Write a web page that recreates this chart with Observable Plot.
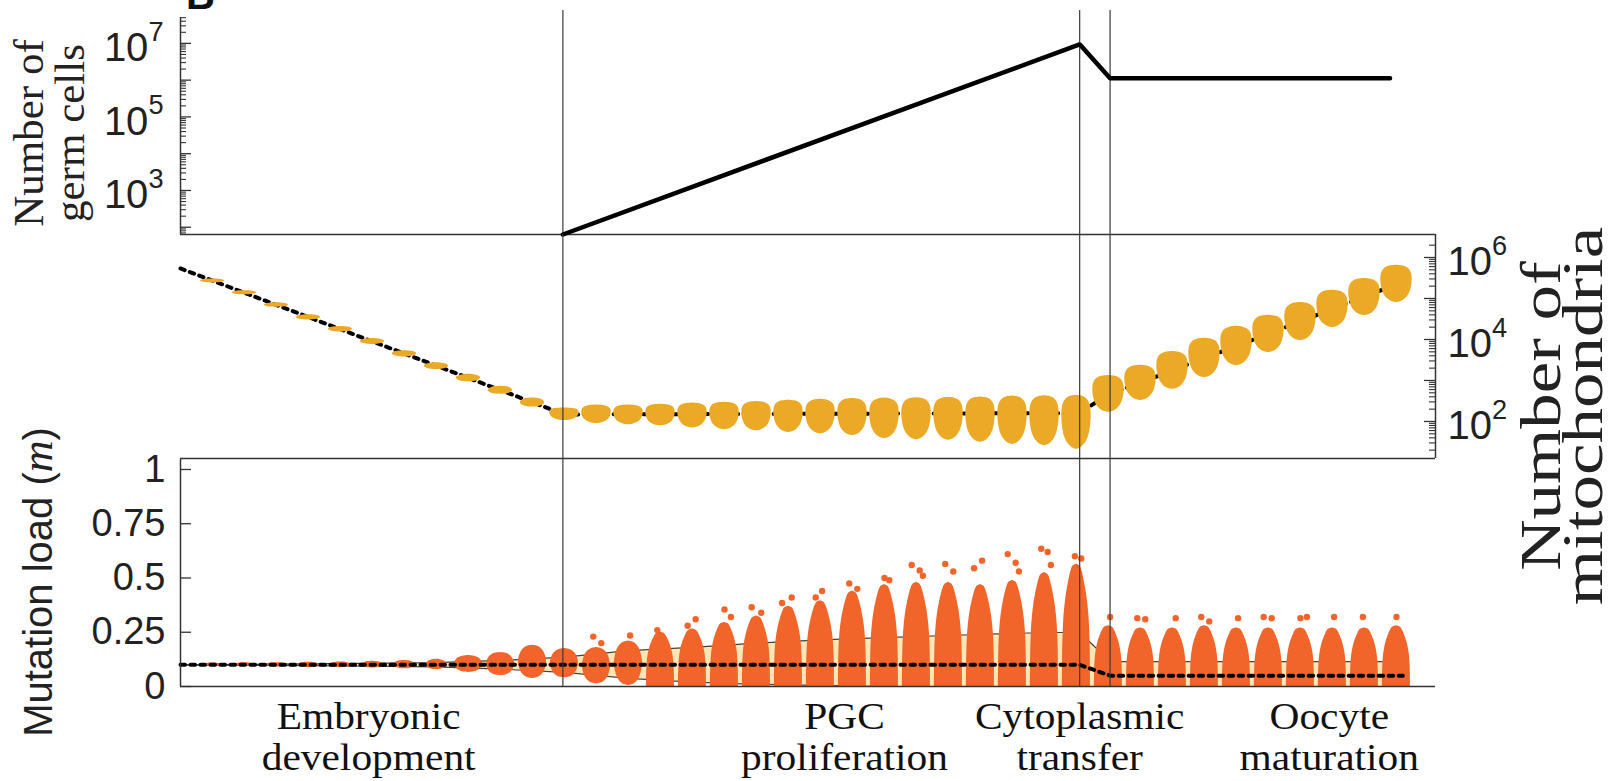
<!DOCTYPE html>
<html>
<head>
<meta charset="utf-8">
<script src="https://cdn.jsdelivr.net/npm/d3@7"></script>
<script src="https://cdn.jsdelivr.net/npm/@observablehq/plot@0.6"></script>
<style>
  body { margin: 0; background: #fff; }
  #wrap { position: relative; width: 1617px; height: 781px; overflow: hidden; background: #fff; }
  #wrap svg { position: absolute; left: 0; }
  #panel { position: absolute; left: 186px; top: -25px; font: bold 40px "Liberation Sans"; line-height: 1; color: #111; }
  .rot { position: absolute; white-space: nowrap; text-align: center; color: #222; }
</style>
</head>
<body>
<div id="wrap"><div id="panel">B</div></div>
<script>
// ---------------- DATA ----------------
const steps = [1,2,3,4,5,6,7,8,9,10,11,12,13,14,15,16,17,18,19,20,21,22,23,24,25,26,27,28,29,30,31,32,33,34,35,36,37,38];
const boundaries = [11.95, 28.1, 29.05];

// Panel 1: number of germ cells
const germX = [11.95, 28.1, 29.05, 37.8];
const germN = [63.5, 9.4e6, 1.12e6, 1.12e6];

// Panel 2: number of mitochondria per cell (cluster low / high) and mean
const mitoLo = [2.4e5, 1.23e5, 6.1e4, 3.0e4, 1.53e4, 7600, 3760, 1860, 930, 457, 224, 105,
  89, 83, 78, 69, 63, 59, 54, 50, 45, 38, 36, 35, 31, 27.5, 25.7, 21,
  166, 324, 603, 1175, 2291, 4786, 9333, 19498, 38019, 79433];
const mitoHi = [3.0e5, 1.55e5, 7.85e4, 4.0e4, 2.07e4, 1.05e4, 5310, 2690, 1410, 724, 372, 214,
  251, 251, 263, 282, 295, 309, 331, 347, 363, 372, 380, 389, 398, 417, 427, 437,
  1318, 2344, 5129, 10715, 20893, 38905, 79433, 158489, 309030, 645654];
const mitoMeanX = [0, 12, 28.1, 29, 30, 31, 32, 33, 34, 35, 36, 37, 38];
const mitoMean = [5.4e5, 148, 160, 470, 870, 1780, 3550, 6900, 13800, 27500, 56000, 110000, 224000];

// Panel 3: mutation load clusters (low, high) and outliers
const loadLo = [0.092, 0.091, 0.09, 0.088, 0.087, 0.085, 0.082, 0.078, 0.065, 0.05, 0.037, 0.04,
  0.012, 0.005, 0, 0, 0, 0, 0, 0, 0, 0, 0, 0, 0, 0, 0, 0,
  0, 0, 0, 0, 0, 0, 0, 0, 0, 0];
const loadHi = [0.108, 0.109, 0.11, 0.112, 0.113, 0.116, 0.12, 0.125, 0.143, 0.157, 0.19, 0.175,
  0.18, 0.21, 0.25, 0.265, 0.295, 0.325, 0.37, 0.395, 0.44, 0.47, 0.48, 0.48, 0.47, 0.49, 0.525, 0.565,
  0.28, 0.27, 0.27, 0.28, 0.27, 0.27, 0.27, 0.27, 0.27, 0.28];
const outlierStep = [13,13,14,15,16,16,17,17,18,18,19,19,20,20,21,21,22,22,23,23,23,24,24,25,25,26,26,26,27,27,27,28,28,
  29,30,30,31,32,32,33,34,34,35,35,36,37,38];
const outlierDx = [-0.1,0.15,0.05,-0.1,0.1,-0.15,0.0,0.2,-0.15,0.15,0.1,-0.2,0.05,-0.15,-0.1,0.15,0.0,0.15,-0.15,0.1,0.2,-0.1,0.15,0.05,-0.2,-0.15,0.1,0.2,-0.1,0.1,0.2,-0.05,0.15,
  0.05,-0.1,0.15,0.1,-0.1,0.15,0.05,-0.15,0.1,0.0,0.2,0.05,-0.05,0.0];
const outlierLoad = [0.23,0.2,0.235,0.26,0.31,0.28,0.355,0.32,0.365,0.34,0.41,0.385,0.44,0.41,0.475,0.45,0.5,0.49,0.56,0.535,0.51,0.565,0.53,0.58,0.545,0.61,0.57,0.53,0.635,0.62,0.56,0.60,0.59,
  0.32,0.315,0.31,0.315,0.32,0.30,0.315,0.32,0.315,0.315,0.32,0.32,0.32,0.32];
const bandX = [0, 4, 8, 10, 12, 14, 16, 18, 20, 22, 24, 26, 28, 28.1, 29.05, 38.2];
const bandHi = [0.1, 0.104, 0.11, 0.12, 0.135, 0.165, 0.18, 0.2, 0.215, 0.225, 0.235, 0.245, 0.25, 0.25, 0.115, 0.115];
const bandLo = [0.1, 0.096, 0.09, 0.08, 0.065, 0.037, 0.02, 0.01, 0.005, 0, 0, 0, 0, 0, 0, 0];
const meanX = [0, 28.1, 29.05, 38.2];
const meanLoad = [0.1, 0.1, 0.05, 0.05];
const loadTicks = [0, 0.25, 0.5, 0.75, 1];

// stage labels
const stageX = [5.88, 20.75, 28.1, 35.9];
const stageText = ["Embryonic\ndevelopment", "PGC\nproliferation", "Cytoplasmic\ntransfer", "Oocyte\nmaturation"];

// axis titles
const titleGerm = ["Number of", "germ cells"];
const titleMito = ["Number of", "mitochondria"];
const titleLoad = ["Mutation load (", "m", ")"];

// ---------------- LAYOUT / STYLE ----------------
const W = 1617, ML = 180, MR = 182, PW = W - ML - MR;
const xDomain = [0, 39.22];
const topDomain = [63.5, 5.05e7];
const midDomain = [12.5, 3.64e6];
const botDomain = [0, 1.046];
const YELLOW = "#EBA926", ORANGE = "#F2652A", CREAM = "#FDE6B6", AXIS = "#333";

// cloud outlines (fraction of cluster height, fraction of half width)
const ellipseShape = [[0,0],[0.04,0.42],[0.14,0.72],[0.3,0.91],[0.5,1],[0.7,0.91],[0.86,0.72],[0.96,0.42],[1,0]];
const eggShape = [[0,0],[0.03,0.3],[0.1,0.56],[0.22,0.79],[0.4,0.94],[0.6,1],[0.76,0.97],[0.87,0.86],[0.94,0.67],[0.98,0.42],[1,0]];
const bellShape = [[0,1],[0.35,0.97],[0.55,0.9],[0.7,0.78],[0.82,0.62],[0.9,0.48],[0.95,0.37],[0.98,0.26],[1,0]];

function cloudRows(items, shapeOf, halfOf, log) {
  const rows = [];
  for (const d of items) {
    const hw = halfOf(d.s);
    for (const [f, w] of shapeOf(d.s)) {
      const y = log ? Math.pow(10, Math.log10(d.lo) + f * (Math.log10(d.hi) - Math.log10(d.lo))) : d.lo + f * (d.hi - d.lo);
      rows.push({s: d.s, y, x1: d.s - w * hw, x2: d.s + w * hw});
    }
  }
  return rows;
}

const mito = steps.map((s, i) => ({s, lo: mitoLo[i], hi: mitoHi[i]}));
const load = steps.map((s, i) => ({s, lo: loadLo[i], hi: loadHi[i]}));
const mitoClouds = cloudRows(mito, s => (s < 12 ? ellipseShape : eggShape), s => (s < 12 ? 0.38 : s <= 28 ? 0.46 : 0.49), true);
const loadClouds = cloudRows(load, s => (s <= 14 ? ellipseShape : bellShape), s => (s <= 8 ? 0.32 : 0.44), false);
const outliers = outlierStep.map((s, i) => ({s: s + outlierDx[i], v: outlierLoad[i]}));
const band = bandX.map((x, i) => ({x, lo: bandLo[i], hi: bandHi[i]}));
const stages = stageX.map((x, i) => ({x, t: stageText[i]}));
const isMajor = t => Math.abs(Math.log10(t) - Math.round(Math.log10(t))) < 1e-9;
const topTicks = d3.scaleLog().domain(topDomain).ticks();
const midTicks = d3.scaleLog().domain(midDomain).ticks().filter(t => t >= 20 && t <= 2e6);
const expFmt = d => "10^" + Math.round(Math.log10(d));

const baseStyle = {background: "transparent", overflow: "visible", fontFamily: "Liberation Sans", color: "#222"};

// ---------------- TOP PANEL ----------------
const topPlot = Plot.plot({
  width: W, height: 235, marginLeft: ML, marginRight: MR, marginTop: 17, marginBottom: 1,
  style: {...baseStyle, fontSize: "40px"},
  x: {domain: xDomain, axis: null},
  y: {type: "log", domain: topDomain, ticks: [1e3, 1e5, 1e7], tickFormat: expFmt, tickSize: 0, tickPadding: 17, label: null},
  marks: [
    Plot.tickY(topTicks.filter(isMajor), {y: d => d, stroke: AXIS, strokeWidth: 1.3, insetRight: PW - 11}),
    Plot.tickY(topTicks.filter(t => !isMajor(t)), {y: d => d, stroke: AXIS, strokeWidth: 1.1, insetRight: PW - 6}),
    Plot.ruleX([xDomain[0]], {stroke: AXIS, strokeWidth: 1.5}),
    Plot.ruleY([topDomain[0]], {stroke: AXIS, strokeWidth: 1.5}),
    Plot.ruleX(boundaries, {x: d => d, stroke: "#3a3a3a", strokeWidth: 1.2, insetTop: -7}),
    Plot.line(germX.map((x, i) => ({x, n: germN[i]})), {x: "x", y: "n", stroke: "#000", strokeWidth: 4.5, strokeLinejoin: "miter"})
  ]
});

// ---------------- MIDDLE PANEL ----------------
const midPlot = Plot.plot({
  width: W, height: 224, marginLeft: ML, marginRight: MR, marginTop: 0, marginBottom: 0,
  style: {...baseStyle, fontSize: "40px"},
  x: {domain: xDomain, axis: null},
  y: {type: "log", domain: midDomain, axis: "right", ticks: [1e2, 1e4, 1e6], tickFormat: expFmt, tickSize: 0, tickPadding: 12, label: null},
  marks: [
    Plot.tickY(midTicks.filter(isMajor), {y: d => d, stroke: AXIS, strokeWidth: 1.3, insetLeft: PW - 11}),
    Plot.tickY(midTicks.filter(t => !isMajor(t)), {y: d => d, stroke: AXIS, strokeWidth: 1.1, insetLeft: PW - 6}),
    Plot.ruleX([xDomain[1]], {stroke: AXIS, strokeWidth: 1.5}),
    Plot.ruleY([midDomain[0]], {stroke: AXIS, strokeWidth: 1.5}),
    Plot.line(mitoMeanX.map((x, i) => ({x, n: mitoMean[i]})), {x: "x", y: "n", stroke: "#000", strokeWidth: 4, strokeDasharray: "4.5,5.5"}),
    Plot.areaX(mitoClouds, {y: "y", x1: "x1", x2: "x2", z: "s", fill: YELLOW, curve: "catmull-rom"}),
    Plot.ruleX(boundaries, {x: d => d, stroke: "#3a3a3a", strokeWidth: 1.2})
  ]
});

// ---------------- BOTTOM PANEL ----------------
const botPlot = Plot.plot({
  width: W, height: 322, marginLeft: ML, marginRight: MR, marginTop: 0, marginBottom: 95,
  style: {...baseStyle, fontSize: "38px"},
  x: {domain: xDomain, axis: null},
  y: {domain: botDomain, ticks: loadTicks, tickFormat: d => String(d), tickSize: 0, tickPadding: 15, label: null},
  marks: [
    Plot.tickY(loadTicks, {y: d => d, stroke: AXIS, strokeWidth: 1.3, insetRight: PW - 11}),
    Plot.areaY(band, {x: "x", y1: "lo", y2: "hi", fill: CREAM}),
    Plot.line(band, {x: "x", y: "hi", stroke: "#444", strokeWidth: 1.2}),
    Plot.line(band, {x: "x", y: "lo", stroke: "#444", strokeWidth: 1.2}),
    Plot.areaX(loadClouds, {y: "y", x1: "x1", x2: "x2", z: "s", fill: ORANGE, curve: "catmull-rom"}),
    Plot.dot(outliers, {x: "s", y: "v", r: 3.2, fill: ORANGE}),
    Plot.line(meanX.map((x, i) => ({x, v: meanLoad[i]})), {x: "x", y: "v", stroke: "#000", strokeWidth: 4, strokeDasharray: "4.5,5.5"}),
    Plot.ruleX(boundaries, {x: d => d, stroke: "#3a3a3a", strokeWidth: 1.2}),
    Plot.ruleX([xDomain[0]], {stroke: AXIS, strokeWidth: 1.5}),
    Plot.ruleY([0], {stroke: AXIS, strokeWidth: 1.5}),
    Plot.text(stages, {x: "x", frameAnchor: "bottom", text: "t", lineAnchor: "top", dy: 14,
      fontFamily: "Liberation Serif", fontSize: 37, lineHeight: 1.1, fill: "#111"})
  ]
});

// ---------------- assemble ----------------
const ns = "http://www.w3.org/2000/svg";
function supify(svg) {
  svg.querySelectorAll("text").forEach(t => {
    const m = /^10\^(\d+)$/.exec(t.textContent);
    if (!m) return;
    t.textContent = "";
    const a = document.createElementNS(ns, "tspan"); a.textContent = "10"; a.setAttribute("dy", "0.12em");
    const b = document.createElementNS(ns, "tspan"); b.textContent = m[1];
    b.setAttribute("font-size", "0.68em"); b.setAttribute("dy", "-0.75em");
    t.append(a, b);
  });
}
function widenStages(svg) {
  const flat = stageText.map(s => s.replace("\n", ""));
  svg.querySelectorAll("text").forEach(t => {
    if (!flat.includes(t.textContent)) return;
    const tr = t.getAttribute("transform") || "";
    const x = t.getAttribute("x"), y = t.getAttribute("y");
    if (x != null || y != null) {
      t.setAttribute("transform", `${tr} translate(${x || 0},${y || 0}) scale(1.12,1)`);
      t.removeAttribute("x"); t.removeAttribute("y");
    } else {
      t.setAttribute("transform", `${tr} scale(1.12,1)`);
    }
  });
}
const wrap = document.getElementById("wrap");
[[topPlot, 0], [midPlot, 234], [botPlot, 459]].forEach(([p, top]) => {
  supify(p); widenStages(p);
  p.style.top = top + "px";
  wrap.appendChild(p);
});

function rotLabel(cx, cy, html, css, squash) {
  const d = document.createElement("div");
  d.className = "rot";
  d.style.left = cx + "px";
  d.style.top = cy + "px";
  Object.assign(d.style, css);
  d.style.transform = `translate(-50%, -50%) rotate(-90deg) scaleY(${squash})`;
  d.innerHTML = html;
  wrap.appendChild(d);
}
rotLabel(49, 133, titleGerm.join("<br>"), {font: "43px 'Liberation Serif'", lineHeight: "41px"}, 1);
rotLabel(1562, 416, titleMito.join("<br>"), {font: "71px 'Liberation Serif'", lineHeight: "52px"}, 0.8);
rotLabel(38, 582, `${titleLoad[0]}<i style="font-family:'Liberation Serif';font-size:1.1em">${titleLoad[1]}</i>${titleLoad[2]}`,
  {font: "40px 'Liberation Sans'", lineHeight: "42px"}, 1);
</script>
</body>
</html>
